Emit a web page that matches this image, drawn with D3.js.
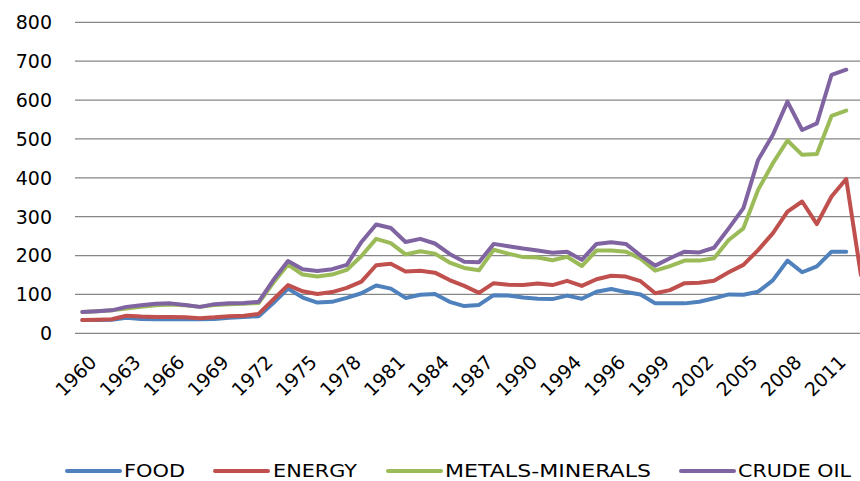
<!DOCTYPE html>
<html>
<head>
<meta charset="utf-8">
<script src="https://cdn.jsdelivr.net/npm/d3@7"></script>
<style>
  html, body { margin: 0; padding: 0; background: #fff; }
  svg { display: block; }
</style>
</head>
<body>
<svg id="chart" width="860" height="481"></svg>
<script>
const categories = ["1960","1961","1962","1963","1964","1965","1966","1967","1968","1969",
  "1970","1971","1972","1973","1974","1975","1976","1977","1978","1979",
  "1980","1981","1982","1983","1984","1985","1986","1987","1988","1989",
  "1990","1991","1992","1993","1994","1995","1996","1997","1998","1999",
  "2000","2001","2002","2003","2004","2005","2006","2007","2008","2009",
  "2010","2011","2012","2013"];

const tickLabels = ["1960","1963","1966","1969","1972","1975","1978","1981","1984","1987",
  "1990","1994","1996","1999","2002","2005","2008","2011"];

const yTicks = [0, 100, 200, 300, 400, 500, 600, 700, 800];

const food = [34,34,35,40,37,36,36,36,36,37,40,42,44,78,115,92,79,81,91,103,
  123,115,91,99,101,81,70,73,98,97,92,89,88,97,89,107,114,106,100,77,
  77,77,81,90,100,99,107,136,187,157,172,210,210];

const energy = [34,35,36,45,43,42,42,41,39,41,44,45,50,87,124,108,101,106,117,133,
  175,179,159,161,156,137,122,104,129,125,124,128,124,135,122,139,148,146,134,103,
  111,129,130,135,157,176,214,257,313,339,281,352,397,150];

const metals = [55,57,59,64,68,72,74,72,68,73,75,76,78,130,177,151,146,151,163,199,
  243,232,203,211,205,182,168,162,215,205,196,195,188,197,173,213,213,210,192,161,
  173,187,187,193,240,270,369,437,496,459,461,559,573];

const crude = [55,57,59,68,72,76,77,73,68,75,77,78,81,137,186,165,160,165,176,235,
  280,271,235,243,231,204,184,183,230,224,218,213,207,210,189,230,234,230,200,174,
  193,210,208,220,270,322,446,510,596,523,540,665,678];

const seriesNames = ["FOOD", "ENERGY", "METALS-MINERALS", "CRUDE OIL"];
const seriesData = [food, energy, metals, crude];
const colors = ["#4F81BD", "#C0504D", "#9BBB59", "#8064A2"];

const svg = d3.select("#chart");
const plotLeft = 75, plotTop = 22.3, plotBottom = 333.3;
const step = 14.69;

const x = d3.scaleBand()
  .domain(categories)
  .range([plotLeft, plotLeft + step * categories.length])
  .paddingInner(0).paddingOuter(0);
const xc = c => x(c) + x.bandwidth() / 2;

const y = d3.scaleLinear().domain([0, 800]).range([plotBottom, plotTop]);

// gridlines
svg.append("g").selectAll("line")
  .data(yTicks)
  .join("line")
  .attr("x1", plotLeft).attr("x2", 860)
  .attr("y1", d => y(d)).attr("y2", d => y(d))
  .attr("stroke", "#868686").attr("stroke-width", 1.2);

// y labels
svg.append("g").selectAll("text")
  .data(yTicks)
  .join("text")
  .attr("x", 52).attr("y", d => y(d))
  .attr("dy", "0.36em")
  .attr("text-anchor", "end")
  .attr("font-family", "DejaVu Sans, sans-serif")
  .attr("font-size", 19)
  .attr("fill", "#000")
  .text(d => d);

// x labels
const tickCats = tickLabels.map((t, i) => categories[i * 3]);
svg.append("g").selectAll("text")
  .data(tickLabels)
  .join("text")
  .attr("transform", (d, i) => `translate(${xc(tickCats[i]) + 6},${354}) rotate(-45)`)
  .attr("text-anchor", "end")
  .attr("dy", "0.7em")
  .attr("font-family", "DejaVu Sans, sans-serif")
  .attr("font-size", 19)
  .attr("fill", "#000")
  .text(d => d);

// lines
const line = d3.line()
  .x((d, i) => xc(categories[i]))
  .y(d => y(d));

svg.append("g").selectAll("path")
  .data(seriesData)
  .join("path")
  .attr("d", d => line(d))
  .attr("fill", "none")
  .attr("stroke", (d, i) => colors[i])
  .attr("stroke-width", 4)
  .attr("stroke-linejoin", "round")
  .attr("stroke-linecap", "round");

// legend
const legendItems = [
  {lx: 67, tx: 124, tw: 61},
  {lx: 215, tx: 273, tw: 84},
  {lx: 388, tx: 445, tw: 206},
  {lx: 681, tx: 738, tw: 113}
];
const lg = svg.append("g");
legendItems.forEach((it, i) => {
  lg.append("line")
    .attr("x1", it.lx).attr("x2", it.lx + 53)
    .attr("y1", 471).attr("y2", 471)
    .attr("stroke", colors[i]).attr("stroke-width", 4)
    .attr("stroke-linecap", "round");
  lg.append("text")
    .attr("x", it.tx).attr("y", 477)
    .attr("font-family", "DejaVu Sans, sans-serif")
    .attr("font-size", 18)
    .attr("textLength", it.tw)
    .attr("lengthAdjust", "spacingAndGlyphs")
    .attr("fill", "#000")
    .text(seriesNames[i]);
});
</script>
</body>
</html>
